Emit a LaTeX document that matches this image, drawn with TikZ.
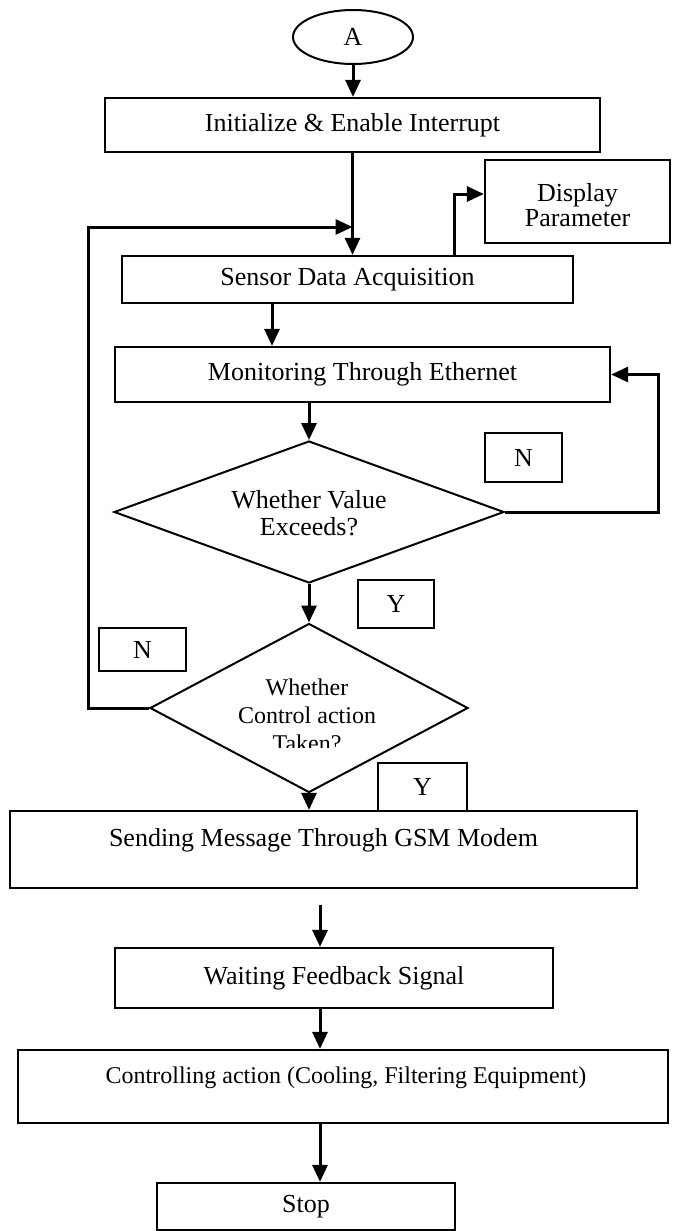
\documentclass[tikz,border=0pt]{standalone}
\usepackage{fontspec}
\setmainfont{Liberation Serif}
\usetikzlibrary{arrows.meta,shapes.geometric}
\begin{document}
\begin{tikzpicture}[x=1pt,y=-1pt,
  box/.style={draw,line width=2.2pt,rectangle,inner sep=0pt,align=center,
    font=\fontsize{26}{26}\selectfont},
  tag/.style={draw,line width=2pt,rectangle,inner sep=0pt,
    font=\fontsize{26}{26}\selectfont},
  decision/.style={draw,line width=2pt,diamond,inner sep=0pt},
  txt/.style={inner sep=0pt,align=center},
  conn/.style={line width=3pt,-{Triangle[length=17pt,width=15pt]}}]
\useasboundingbox (0,0) rectangle (679,1231);

% start terminal
\node[draw,line width=2pt,ellipse,minimum width=120pt,minimum height=54pt,
  inner sep=0pt,font=\fontsize{26}{26}\selectfont] (start) at (353,37) {A};

% process boxes
\node[box,minimum width=495pt,minimum height=54pt] (init) at (352.5,125)
  {Initialize \& Enable Interrupt};
\node[box,minimum width=185pt,minimum height=83pt] (disp) at (577.5,201.5) {};
\node[txt,font=\fontsize{26}{25}\selectfont] (dispt) at (577.5,205.5)
  {Display\\Parameter};
\node[box,minimum width=451pt,minimum height=47pt] (sensor) at (347.5,279.5)
  {Sensor Data Acquisition};
\node[box,minimum width=495pt,minimum height=55pt] (mon) at (362.5,374.5)
  {Monitoring Through Ethernet};

% decisions
\node[decision,minimum width=390pt,minimum height=142pt] (d1) at (309,512) {};
\node[txt,font=\fontsize{26}{27}\selectfont] (d1t) at (309,513)
  {Whether Value\\Exceeds?};
\node[decision,minimum width=318pt,minimum height=169pt] (d2) at (309,708) {};
\begin{scope}
  \clip (140,660) rectangle (480,747);
  \node[txt,font=\fontsize{24}{28}\selectfont] (d2t) at (307,715)
    {Whether\\Control action\\Taken?};
\end{scope}

% branch labels
\node[tag,minimum width=77pt,minimum height=49pt] (n1) at (523.5,457.5) {N};
\node[tag,minimum width=76pt,minimum height=48pt] (y1) at (396,604) {Y};
\node[tag,minimum width=87pt,minimum height=43pt] (n2) at (142.5,649.5) {N};
\node[tag,minimum width=89pt,minimum height=48pt] (y2) at (422.5,787) {Y};

% lower boxes
\node[box,minimum width=627pt,minimum height=77pt] (send) at (323.5,849.5) {};
\node[txt,font=\fontsize{26}{26}\selectfont] (sendt) at (323.5,840)
  {Sending Message Through GSM Modem};
\node[box,minimum width=438pt,minimum height=60pt] (wait) at (334,978)
  {Waiting Feedback Signal};
\node[box,minimum width=650pt,minimum height=73pt] (ctrl) at (343,1086.5) {};
\node[txt,font=\fontsize{24}{24}\selectfont] (ctrlt) at (346,1078)
  {Controlling action (Cooling, Filtering Equipment)};
\node[box,minimum width=298pt,minimum height=47pt] (stop) at (306,1206.5)
  {Stop};

% helper points for connectors
\coordinate (xsm) at (272,0);
\coordinate (xdp) at (454,0);
\coordinate (xr) at (658,0);
\coordinate (loopL) at (88,227);
\coordinate (loopJ) at (352.5,227);
\coordinate (fb) at (320,905);

% connectors
\draw[conn] (start.south) -- (start.south |- init.north);
\draw[conn] (init.south) -- (init.south |- sensor.north);
\draw[conn] (sensor.north -| xdp) |- ([yshift=7.5pt]disp.west);
\draw[conn] (sensor.south -| xsm) -- (mon.north -| xsm);
\draw[conn] (mon.south -| d1.north) -- (d1.north);
\draw[conn] (d1.east) -- (d1.east -| xr) |- (mon.east);
\draw[conn] (d1.south) -- (d2.north);
\draw[conn] (d2.west) -| (loopL) -- (loopJ);
\draw[conn] (d2.south) -- (d2.south |- send.north);
\draw[conn] (fb) -- (fb |- wait.north);
\draw[conn] (wait.south -| fb) -- (ctrl.north -| fb);
\draw[conn] (ctrl.south -| fb) -- (stop.north -| fb);
\end{tikzpicture}
\end{document}
